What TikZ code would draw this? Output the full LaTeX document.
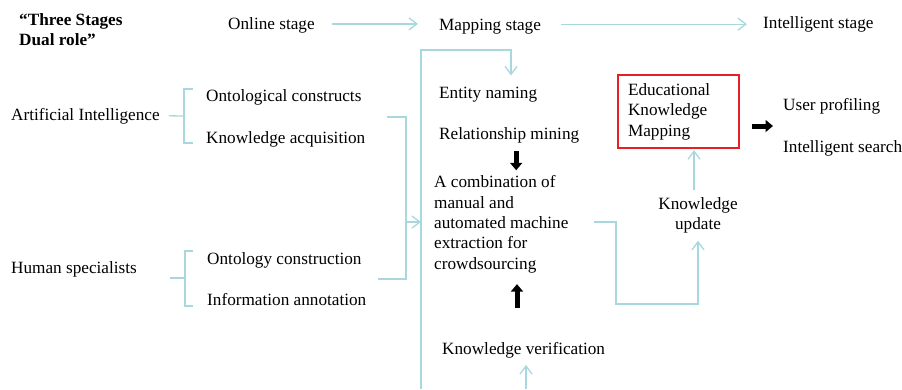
\documentclass[tikz,border=0pt]{standalone}
\usepackage{fontspec}
\setmainfont{Liberation Serif}
\usetikzlibrary{arrows.meta}
\definecolor{linkcol}{RGB}{168,216,222}
\definecolor{boxred}{RGB}{228,32,36}
\newcommand{\diagfont}{\fontsize{17.2}{20.4}\selectfont}
\tikzset{
  txt/.style={inner sep=0pt, anchor=base west, font=\diagfont},
  multi/.style={inner sep=0pt, anchor=north west, align=left, font=\diagfont},
  link/.style={draw=linkcol, line width=1.3pt},
  linkarrow/.style={link, -{Straight Barb[length=8pt,width=12pt]}},
  bigarrow/.style={draw=black, line width=5pt, -{Triangle[length=7.5pt,width=12pt]}},
  redbox/.style={draw=boxred, line width=1.3pt, inner sep=0pt,
    minimum width=121pt, minimum height=73pt, text width=101pt,
    align=left, font=\diagfont}
}
\begin{document}
\begin{tikzpicture}[x=1pt,y=-1pt]
\useasboundingbox (0,0) rectangle (902,389);

% stage headings
\node[multi, font=\diagfont\bfseries] (title) at (19,13.4) {“Three Stages\\Dual role”};
\node[txt] (online) at (228,29) {Online stage};
\node[txt] (mapping) at (439,30) {Mapping stage};
\node[txt] (intel) at (763,28) {Intelligent stage};

% left column: sources and their roles
\node[txt] (ai) at (11,120) {Artificial Intelligence};
\node[txt] (onto) at (206,101) {Ontological constructs};
\node[txt] (acq) at (206,143) {Knowledge acquisition};
\node[txt] (hs) at (11,273) {Human specialists};
\node[txt] (ontoc) at (207,264) {Ontology construction};
\node[txt] (annot) at (207,305) {Information annotation};

% middle column: mapping steps
\node[txt] (entity) at (439,98) {Entity naming};
\node[txt] (relation) at (439,139) {Relationship mining};
\node[multi] (comb) at (434,175.3) {A combination of\\manual and\\automated machine\\extraction for\\crowdsourcing};
\node[txt] (verif) at (442,354) {Knowledge verification};

% right column: result and its uses
\node[redbox] (ekm) at (678.5,111.5) {Educational\\Knowledge\\Mapping};
\node[inner sep=0pt, anchor=north, align=center, font=\diagfont] (update) at (698,197.3) {Knowledge\\update};
\node[txt] (profile) at (783,110) {User profiling};
\node[txt] (search) at (783,152) {Intelligent search};

% stage sequence
\draw[linkarrow] ([xshift=17pt,yshift=1pt]online.east) -- ([xshift=-21pt,yshift=1pt]online.east -| mapping.west);
\draw[linkarrow] ([xshift=20pt,yshift=2pt]mapping.east) -- ([xshift=-16pt,yshift=2pt]mapping.east -| intel.west);

% braces on the left
\coordinate (aiMid) at (184,116);
\coordinate (aiBrTop) at (193,89);
\coordinate (aiBrBot) at (193,143);
\draw[link] ([xshift=9pt]ai.east) -- (aiMid);
\draw[link] (aiBrTop) -| (aiMid) |- (aiBrBot);

\coordinate (hsStub) at (170,278);
\coordinate (hsMid) at (185,278);
\coordinate (hsBrTop) at (193,251);
\coordinate (hsBrBot) at (193,306);
\draw[link] (hsStub) -- (hsMid);
\draw[link] (hsBrTop) -| (hsMid) |- (hsBrBot);

% joining line into the mapping stage
\coordinate (aiOut) at (387,117);
\coordinate (hsOut) at (378,279);
\coordinate (joinTop) at (406,117);
\coordinate (joinBot) at (406,279);
\coordinate (joinIn) at (406,222);
\coordinate (spineTop) at (421,50);
\coordinate (spineBot) at (421,389);
\coordinate (dropTurn) at (511,50);
\draw[link] (aiOut) -- (joinTop) -- (joinBot) -- (hsOut);
\draw[linkarrow] (joinIn) -- (joinIn -| spineTop);
\draw[linkarrow, shorten >=11pt] (spineBot) -- (spineTop) -- (dropTurn) -- (dropTurn |- entity.north);

% black block arrows
\draw[bigarrow, shorten >=5pt] ([xshift=7pt,yshift=-8pt]relation.south) -- ([xshift=7pt]relation.south |- comb.north);
\coordinate (upFoot) at (517,308);
\draw[bigarrow, shorten >=11pt] (upFoot) -- (upFoot |- comb.south);
\coordinate (outStart) at (752,126);
\draw[bigarrow, shorten >=10pt] (outStart) -- (outStart -| profile.west);

% feedback: crowdsourcing -> update -> mapping
\coordinate (combOut) at (594,222);
\coordinate (elbow) at (616,304);
\draw[linkarrow] (combOut) -| (elbow) -| ([yshift=-7pt]update.south);
\draw[linkarrow, shorten >=1.5pt] ([xshift=-4pt,yshift=7pt]update.north) -- ([xshift=-4pt]update.north |- ekm.south);

% verification input
\coordinate (verBot) at (526,389);
\draw[linkarrow, shorten >=7pt] (verBot) -- (verBot |- verif.south);
\end{tikzpicture}
\end{document}
